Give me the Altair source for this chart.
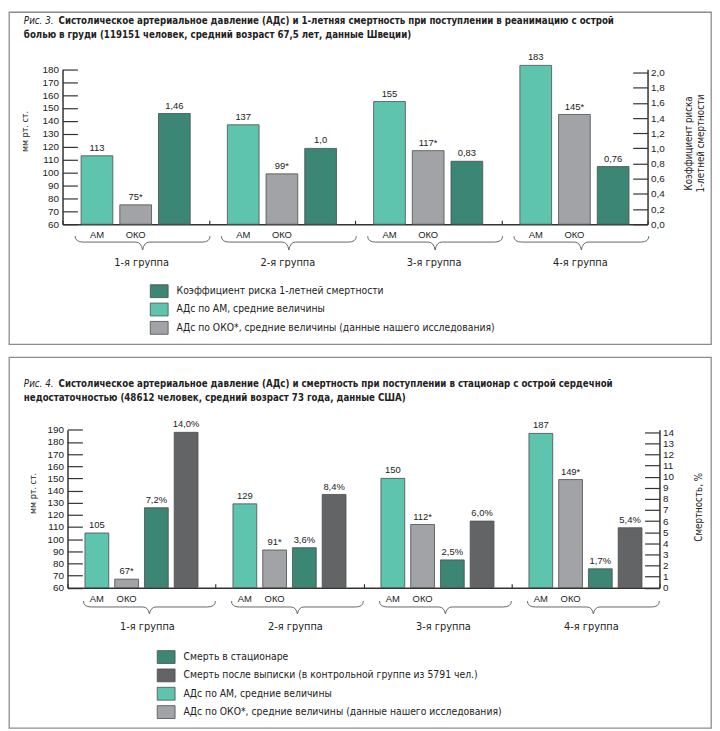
import altair as alt
import pandas as pd

# ---------------- data ----------------
groups = ["1-я группа", "2-я группа", "3-я группа", "4-я группа"]

fig3_am = [113, 137, 155, 183]
fig3_oko = [75, 99, 117, 145]
fig3_risk = [1.46, 1.0, 0.83, 0.76]
fig3_risk_labels = ["1,46", "1,0", "0,83", "0,76"]

fig4_am = [105, 129, 150, 187]
fig4_oko = [67, 91, 112, 149]
fig4_hosp = [7.2, 3.6, 2.5, 1.7]
fig4_after = [14.0, 8.4, 6.0, 5.4]

S_AM = "АДс по АМ, средние величины"
S_OKO = "АДс по ОКО*, средние величины (данные нашего исследования)"
S_RISK = "Коэффициент риска 1-летней смертности"
S_HOSP = "Смерть в стационаре"
S_AFTER = "Смерть после выписки (в контрольной группе из 5791 чел.)"

fig3_title = ["Систолическое артериальное давление (АДс) и 1-летняя смертность при поступлении в реанимацию с острой",
              "болью в груди (119151 человек, средний возраст 67,5 лет, данные Швеции)"]
fig4_title = ["Систолическое артериальное давление (АДс) и смертность при поступлении в стационар с острой сердечной",
              "недостаточностью (48612 человек, средний возраст 73 года, данные США)"]

# ---------------- styles ----------------
FONT_N = "DejaVu Sans Condensed, DejaVu Sans, sans-serif"
FONT = "Liberation Sans, Arial, Helvetica, sans-serif"
C_AM = "#5fc4ae"
C_OKO = "#a1a3a6"
C_DT = "#3b8675"
C_DG = "#626466"
STROKE = "#4d4d4d"
AX = "#333333"
TXT = "#222222"
FRAME = "#8c8c8c"

RECT = "M-1,-0.72L1,-0.72L1,0.72L-1,0.72Z"


def brace_path(up, down):
    return (f"M-1,{-up} Q-1,0 -0.88,0 L-0.1,0 Q-0.02,0 0,{down} "
            f"Q0.02,0 0.1,0 L0.88,0 Q1,0 1,{-up}")


def rows(series, values, labels):
    return pd.DataFrame({"group": groups, "series": [series] * len(groups),
                         "value": values, "label": labels})


def figure(fig_no, title_lines, left_rows, right_rows, offset_order,
           legend_order, legend_colors, left_dom, left_ticks, right_dom,
           right_ticks, right_expr, left_title, right_title, g):
    W, H = g["W"], g["H"]
    x0, x1, yb, yt = g["x0"], g["x1"], g["yb"], g["yt"]

    x_enc = alt.X("group:N", title=None,
                  scale=alt.Scale(domain=groups, range=[x0, x1], paddingInner=0, paddingOuter=0),
                  axis=alt.Axis(orient="top", offset=-yb, labels=False, tickBand="extent",
                                tickSize=4, tickColor=AX, tickWidth=1.2, domainColor=AX,
                                domainWidth=1.5, title=None, grid=False))
    xo_enc = alt.XOffset("series:N",
                         scale=alt.Scale(domain=offset_order, paddingInner=g["pi"], paddingOuter=g["po"]))
    legend = alt.Legend(orient="none", legendX=g["lx"], legendY=g["ly"], direction="vertical",
                        title=None, symbolType=RECT, symbolSize=324, symbolStrokeColor=STROKE,
                        symbolStrokeWidth=0.8, symbolOpacity=1, labelFont=FONT_N, labelFontSize=10.4,
                        labelColor=TXT, labelOffset=8, labelLimit=0, rowPadding=0.5, padding=0)
    c_enc = alt.Color("series:N", scale=alt.Scale(domain=legend_order, range=legend_colors),
                      legend=legend)

    lscale = alt.Scale(domain=left_dom, range=[yb, yt], nice=False, zero=False)
    rscale = alt.Scale(domain=right_dom, range=[yb, yt], nice=False, zero=False)

    laxis = alt.Axis(orient="right", offset=x0 - W, values=left_ticks, tickSize=15,
                     tickColor=AX, tickWidth=1.2, domainColor=AX, domainWidth=1.5,
                     labelAlign="right", labelPadding=-19, labelFont=FONT, labelFontSize=10,
                     labelColor=TXT, labelOverlap=False, labelFlush=False, grid=False,
                     title=left_title, titleAngle=270, titleX=g["ltx"], titleY=g["lty"],
                     titleAlign="center", titleBaseline="middle", titleFont=FONT_N,
                     titleFontSize=9, titleFontWeight="normal", titleColor=TXT)
    raxis = alt.Axis(orient="left", offset=-x1, values=right_ticks, tickSize=15,
                     tickColor=AX, tickWidth=1.2, domainColor=AX, domainWidth=1.5,
                     labelAlign="left", labelPadding=-18, labelFont=FONT, labelFontSize=10,
                     labelColor=TXT, labelOverlap=False, labelFlush=False, labelExpr=right_expr,
                     grid=False, title=right_title, titleAngle=270, titleX=g["rtx"],
                     titleY=g["rty"], titleAlign="center", titleBaseline="middle",
                     titleFont=FONT_N, titleFontSize=9.8, titleFontWeight="normal",
                     titleColor=TXT, titleLineHeight=12)

    dfl = pd.concat(left_rows, ignore_index=True)
    dfr = pd.concat(right_rows, ignore_index=True)

    bars_l = alt.Chart(dfl).mark_bar(stroke=STROKE, strokeWidth=0.8).encode(
        x=x_enc, xOffset=xo_enc,
        y=alt.Y("value:Q", scale=lscale, axis=laxis),
        y2=alt.datum(left_dom[0]), color=c_enc)
    bars_r = alt.Chart(dfr).mark_bar(stroke=STROKE, strokeWidth=0.8).encode(
        x=x_enc, xOffset=xo_enc,
        y=alt.Y("value:Q", scale=rscale, axis=raxis),
        y2=alt.datum(right_dom[0]), color=c_enc)
    txt_kw = dict(baseline="bottom", dy=-3, font=FONT, fontSize=9.5, color=TXT)
    lab_l = alt.Chart(dfl).mark_text(**txt_kw).encode(
        x=x_enc, xOffset=xo_enc, y=alt.Y("value:Q", scale=lscale, axis=None), text="label:N")
    lab_r = alt.Chart(dfr).mark_text(**txt_kw).encode(
        x=x_enc, xOffset=xo_enc, y=alt.Y("value:Q", scale=rscale, axis=None), text="label:N")

    sub = pd.DataFrame({"group": [gg for gg in groups for _ in range(2)],
                        "series": [offset_order[0], offset_order[1]] * len(groups),
                        "t": ["АМ", "ОКО"] * len(groups)})
    sublab = alt.Chart(sub).mark_text(font=FONT, fontSize=9.5, color=TXT, baseline="middle").encode(
        x=x_enc, xOffset=xo_enc, y=alt.value(g["amy"]), text="t:N")

    gdf = pd.DataFrame({"group": groups})
    brace = alt.Chart(gdf).mark_point(
        shape=brace_path(g["bu"], g["bd"]), size=g["bs"], filled=False, color="#666666",
        strokeWidth=1, opacity=1, xOffset=g["bdx"]).encode(x=x_enc, y=alt.value(g["by"]))
    glab = alt.Chart(gdf).mark_text(font=FONT_N, fontSize=11, color=TXT, baseline="middle",
                                    xOffset=g["gdx"]).encode(
        x=x_enc, y=alt.value(g["gy"]), text="group:N")

    tdf = pd.DataFrame({"a": [f"Рис. {fig_no}."], "b": [title_lines[0]], "c": [title_lines[1]]})
    t_it = alt.Chart(tdf).mark_text(align="left", baseline="middle", font=FONT_N, fontSize=9.8,
                                    fontStyle="italic", color=TXT).encode(
        x=alt.value(g["tx"]), y=alt.value(g["t1"]), text="a:N")
    t_b1 = alt.Chart(tdf).mark_text(align="left", baseline="middle", font=FONT_N, fontSize=9.7,
                                    fontWeight="bold", color=TXT).encode(
        x=alt.value(g["bx"]), y=alt.value(g["t1"]), text="b:N")
    t_b2 = alt.Chart(tdf).mark_text(align="left", baseline="middle", font=FONT_N, fontSize=9.7,
                                    fontWeight="bold", color=TXT).encode(
        x=alt.value(g["tx"]), y=alt.value(g["t2"]), text="c:N")

    return alt.layer(bars_l, bars_r, lab_l, lab_r, sublab, brace, glab, t_it, t_b1, t_b2).resolve_scale(
        y="independent").properties(width=W, height=H)


g3 = dict(W=708, H=335, x0=54, x1=644, yb=214, yt=57.7, pi=0.18, po=0.48,
          amy=225, by=232, bs=136 * 136, bu=0.088, bd=0.118, bdx=7, gy=253, gdx=6,
          lx=142, ly=272, tx=15, bx=50, t1=9, t2=23, ltx=-38, lty=120, rtx=41, rty=132)
g4 = dict(W=708, H=374, x0=59, x1=656, yb=232.5, yt=73.3, pi=0.2, po=0.5875,
          amy=244, by=252, bs=133 * 133, bu=0.09, bd=0.105, bdx=8, gy=272, gdx=6,
          lx=149, ly=293, tx=15, bx=50, t1=27, t2=41, ltx=-35, lty=137, rtx=39, rty=151)

fig3 = figure(
    3, fig3_title,
    [rows(S_AM, fig3_am, [str(v) for v in fig3_am]),
     rows(S_OKO, fig3_oko, [f"{v}*" for v in fig3_oko])],
    [rows(S_RISK, fig3_risk, fig3_risk_labels)],
    [S_AM, S_OKO, S_RISK],
    [S_RISK, S_AM, S_OKO], [C_DT, C_AM, C_OKO],
    [60, 180], list(range(60, 181, 10)),
    [0, 2.043], [round(0.2 * i, 1) for i in range(11)],
    "replace(format(datum.value, '.1f'), '.', ',')",
    "мм рт. ст.", ["Коэффициент риска", "1-летней смертности"], g3)

pct = lambda v: f"{v:.1f}%".replace(".", ",")
fig4 = figure(
    4, fig4_title,
    [rows(S_AM, fig4_am, [str(v) for v in fig4_am]),
     rows(S_OKO, fig4_oko, [f"{v}*" for v in fig4_oko])],
    [rows(S_HOSP, fig4_hosp, [pct(v) for v in fig4_hosp]),
     rows(S_AFTER, fig4_after, [pct(v) for v in fig4_after])],
    [S_AM, S_OKO, S_HOSP, S_AFTER],
    [S_HOSP, S_AFTER, S_AM, S_OKO], [C_DT, C_DG, C_AM, C_OKO],
    [60, 190], list(range(60, 191, 10)),
    [0, 14.23], list(range(0, 15)),
    "format(datum.value, 'd')",
    "мм рт. ст.", "Смертность, %", g4)

chart = alt.vconcat(fig3, fig4, spacing=11).resolve_scale(
    color="independent", xOffset="independent").properties(padding=0).configure_view(
    stroke=FRAME, strokeWidth=1.3)

chart.save("out.html", embed_options={"renderer": "svg", "actions": False})
